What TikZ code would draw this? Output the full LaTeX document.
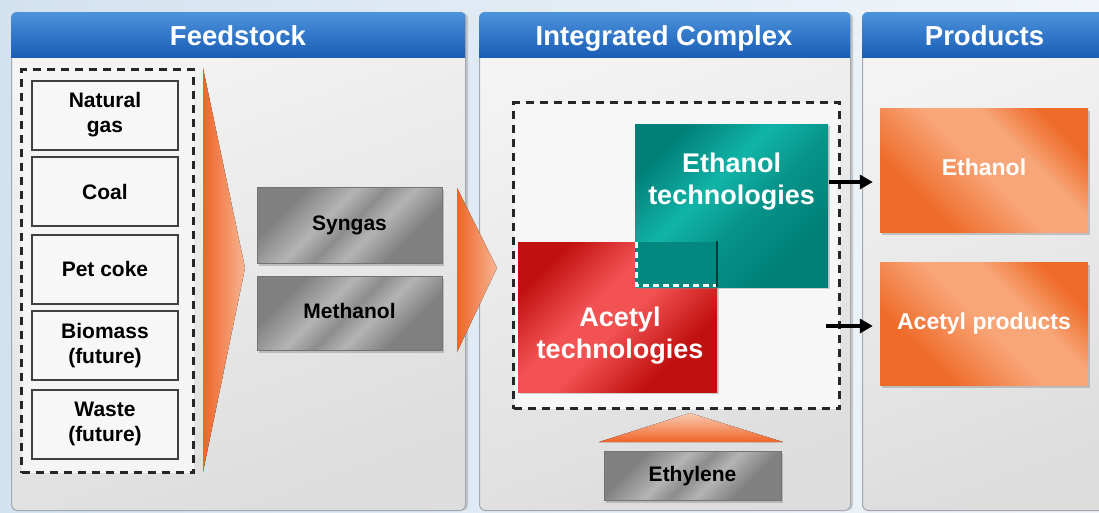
\documentclass[tikz,border=0pt]{standalone}
\usepackage{fontspec}
\setmainfont{Liberation Sans}
\usetikzlibrary{arrows.meta,shadows,calc}
\definecolor{bgL}{HTML}{D3E2F0}
\definecolor{bgR}{HTML}{F1F5F9}
\definecolor{hdrT}{HTML}{4C93DC}
\definecolor{hdrB}{HTML}{1A5DB6}
\definecolor{pnlA}{HTML}{F4F4F4}
\definecolor{pnlB}{HTML}{DDDDDD}
\definecolor{pnlLine}{HTML}{A4A8AE}
\definecolor{orD}{HTML}{EE6A28}
\definecolor{orL}{HTML}{F8A678}
\definecolor{wedgeD}{HTML}{EF6428}
\definecolor{wedgeL}{HTML}{F7B592}
\definecolor{grD}{HTML}{808080}
\definecolor{grL}{HTML}{B4B4B4}
\definecolor{tlD}{HTML}{007F77}
\definecolor{tlL}{HTML}{12B4A8}
\definecolor{rdD}{HTML}{C0100F}
\definecolor{rdL}{HTML}{F25252}
\pgfdeclareverticalshading{orshade}{100bp}{color(0bp)=(orD); color(30bp)=(orD); color(50bp)=(orL); color(62bp)=(orL); color(75bp)=(orD); color(100bp)=(orD)}
\pgfdeclareverticalshading{grshade}{100bp}{color(0bp)=(grD); color(30bp)=(grD); color(42bp)=(grL); color(50bp)=(grD!90!white); color(58bp)=(grL); color(72bp)=(grD); color(100bp)=(grD)}
\pgfdeclareverticalshading{tlshade}{100bp}{color(0bp)=(tlD); color(28bp)=(tlD); color(45bp)=(tlD!60!tlL); color(58bp)=(tlL); color(75bp)=(tlD); color(100bp)=(tlD)}
\pgfdeclareverticalshading{rdshade}{100bp}{color(0bp)=(rdD); color(30bp)=(rdD); color(48bp)=(rdL); color(58bp)=(rdL); color(75bp)=(rdD); color(100bp)=(rdD)}
\begin{document}
\begin{tikzpicture}[x=1pt,y=-1pt,
  txt/.style={font=\fontsize{21}{25}\selectfont\bfseries, align=center},
  panel/.style={draw=pnlLine, line width=1pt, rounded corners=6pt, top color=pnlA, bottom color=pnlB, shading angle=20, anchor=north west, inner sep=0pt,
     drop shadow={shadow xshift=2.5pt, shadow yshift=0pt, opacity=0.35}},
  header/.style={top color=hdrT, bottom color=hdrB, anchor=north west, inner sep=0pt, minimum height=45pt},
  hdrtxt/.style={text=white, font=\fontsize{27.5}{30}\selectfont\bfseries, anchor=base, inner sep=0pt},
  feed/.style={txt, draw=black!75, line width=2pt, fill=white!97!black, minimum width=146pt, minimum height=69pt, inner sep=0pt},
  graybox/.style={txt, draw=black!55, line width=0.8pt, shade, shading=grshade, shading angle=45, inner sep=0pt, text height=15pt, text depth=4pt,
     drop shadow={shadow xshift=2pt, shadow yshift=-2.5pt, opacity=0.4}},
  prod/.style={txt, text=white, font=\fontsize{23}{27}\selectfont\bfseries, shade, shading=orshade, shading angle=-45, minimum width=208pt, minimum height=123pt, inner sep=0pt, text height=16pt, text depth=5pt,
     drop shadow={shadow xshift=2pt, shadow yshift=-2.5pt, opacity=0.4}},
  dashbox/.style={draw=black!85, line width=3pt, dash pattern=on 8pt off 6pt},
  wedge/.style={left color=wedgeD, right color=wedgeL},
  arr/.style={-{Triangle[length=13pt,width=14pt]}, line width=4pt, black},
  bigtxt/.style={text=white, font=\fontsize{27}{32}\selectfont\bfseries, align=center}
]
\useasboundingbox (0,0) rectangle (1099,512);
\shade[left color=bgL, right color=bgR] (0,0) rectangle (1099,512);

% panels
\node[panel, minimum width=454pt, minimum height=498pt] (fpanel) at (11,12) {};
\node[panel, minimum width=371pt, minimum height=498pt] (ipanel) at (479,12) {};
\node[panel, minimum width=250pt, minimum height=498pt] (ppanel) at (862,12) {};
\begin{scope}
  \clip[rounded corners=6pt] (fpanel.north west) rectangle (fpanel.south east);
  \node[header, minimum width=454pt] (fhead) at (11,12) {};
\end{scope}
\begin{scope}
  \clip[rounded corners=6pt] (ipanel.north west) rectangle (ipanel.south east);
  \node[header, minimum width=371pt] (ihead) at (479,12) {};
\end{scope}
\begin{scope}
  \clip[rounded corners=6pt] (ppanel.north west) rectangle (ppanel.south east);
  \node[header, minimum width=250pt] (phead) at (862,12) {};
\end{scope}
\node[hdrtxt] (fheadtxt) at (238,45) {Feedstock};
\node[hdrtxt] (iheadtxt) at (664,45) {Integrated Complex};
\node[hdrtxt] (pheadtxt) at (984.5,45) {Products};

% feedstock column
\node[dashbox, fill=white!96!black, minimum width=172pt, minimum height=403pt, inner sep=0pt, anchor=north west] (fdash) at (20,68) {};
\node[feed] (ng) at (105,115) {Natural\\gas};
\node[feed] (coal) at (105,191.5) {Coal};
\node[feed] (pet) at (105,269) {Pet coke};
\node[feed] (bio) at (105,345.5) {Biomass\\(future)};
\node[feed] (waste) at (105,424) {Waste\\(future)};

\fill[wedge] (203,68) -- (245,268) -- (203,472) -- cycle;

\node[graybox, minimum width=185pt, minimum height=76pt] (syngas) at (349.5,225) {Syngas};
\node[graybox, minimum width=185pt, minimum height=74pt] (meth) at (349.5,313) {Methanol};

\fill[wedge] (457,188) -- (497,268) -- (457,352) -- cycle;

% integrated complex
\node[dashbox, fill=white!97!black, minimum width=326pt, minimum height=306pt, inner sep=0pt, anchor=north west] (idash) at (512,101) {};
\node[shade, shading=rdshade, shading angle=45, minimum width=199pt, minimum height=150pt, inner sep=0pt,
   drop shadow={shadow xshift=2pt, shadow yshift=-2pt, opacity=0.35}] (red) at (617.5,317) {};
\node[shade, shading=tlshade, shading angle=45, minimum width=193pt, minimum height=163pt, inner sep=0pt,
   drop shadow={shadow xshift=2pt, shadow yshift=-2pt, opacity=0.35}] (teal) at (731.5,205.5) {};
\fill[tlD!85!tlL] (635,242) rectangle (717,287);
\draw[white, line width=2.5pt, dash pattern=on 6pt off 4pt] (636.5,242) -- (636.5,285.5) -- (716,285.5);
\draw[black!50!tlD, line width=1.5pt] (717,241) -- (717,287);
\node[bigtxt] (tealtxt) at (731.5,182) {Ethanol\\technologies};
\node[bigtxt] (redtxt) at (620,336) {Acetyl\\technologies};

% products
\node[prod, minimum height=124pt] (prodE) at (984,170) {Ethanol};
\node[prod] (prodA) at (984,323.5) {Acetyl products};

\coordinate (a1) at (829,182);
\coordinate (a2) at (826,326);
\draw[arr, shorten >=7pt] (a1) -- (prodE.west |- a1);
\draw[arr, shorten >=7pt] (a2) -- (prodA.west |- a2);

% ethylene
\fill[top color=wedgeL!70!white, bottom color=wedgeD] (599,442) -- (690,413) -- (783,442) -- cycle;
\node[graybox, minimum width=177pt, minimum height=49pt] (ethyl) at (692.5,475.5) {Ethylene};
\end{tikzpicture}
\end{document}
